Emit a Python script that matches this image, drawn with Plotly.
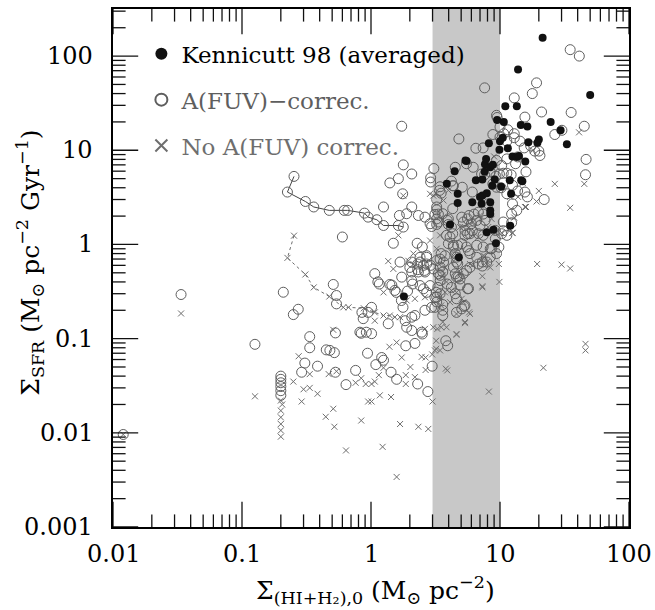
import math
import plotly.graph_objects as go

# ---------------- data ----------------
# Kennicutt 98 (averaged) - filled
ken_x = [21.4, 13.8, 50, 11, 13.5, 14.5, 16.3, 10.7, 24.7, 29.5, 33, 16.6, 20, 19.5, 10.5, 11.5, 8.2,
         12.5, 13.5, 9.9, 7.65, 5.4, 4.45, 7.6, 8.4, 6.5, 7.3, 10.2, 8.7, 11.9, 14.9, 12.2, 7.3, 7.9,
         10, 9.5, 7.8, 14, 15.7, 14.6, 5.5, 8.8, 3.87, 9.1, 6.1, 7, 4.7, 8.4, 8.4, 8.9, 9.3, 12.0,
         7.9, 7.2, 1.8, 4.7, 4.1, 4.8, 8.4]
ken_y = [157, 72, 38.6, 29.3, 29.3, 18.5, 17.9, 20, 20, 16.3, 11.6, 12.2, 13, 12, 13.6, 10.5, 11.9,
         8.6, 8.5, 10.1, 7.1, 7.8, 6.0, 5.9, 6.6, 4.8, 4.9, 4.1, 4.2, 4.8, 4.7, 3.46, 3.3, 3.5,
         12.5, 21, 8.1, 8.7, 7.6, 4.8, 7.7, 7.0, 4.4, 4.9, 2.8, 3.2, 2.75, 2.8, 2.1, 1.43, 1.03, 1.58,
         1.35, 2.7, 0.28, 3.46, 1.63, 0.73, 2.3]

# A(FUV)-corrected - open circles
cor_x = [0.012, 0.0337, 0.126, 0.2, 0.2, 0.2, 0.2, 0.2, 0.2,
         0.209, 0.25, 0.273, 0.335, 0.335, 0.307, 0.29, 0.385, 0.45, 0.48, 0.52, 0.53, 0.54, 0.51, 0.54, 0.53,
         1.25, 1.66, 2.07, 1.89, 2.33, 2.62, 2.87, 3.13, 3.23, 0.6, 1.49, 2.28, 1.68, 2.07, 2.4, 2.7, 2.55,
         2.33, 2.62, 3.04, 1.07, 1.13, 1.4, 1.53, 1.57, 2.07, 2.4, 2.55, 2.7, 2.87, 3.13, 3.23, 3.13, 1.72,
         1.77, 2.19, 2.07, 1.84, 2.62, 2.95, 1.01, 0.95, 0.85, 0.87, 1.36, 0.82, 0.92, 1.89, 2.07, 2.47,
         0.84, 1.01, 1.86, 2.19, 2.5, 0.94, 1.21, 1.25, 1.09, 1.43, 1.58, 0.76, 0.64, 2.3, 2.76, 2.98,
         3.8, 3.93, 5.26, 5.6,
         35, 41.2, 7.6, 19.2, 17.8, 12.9, 21, 35.6, 15.6, 9.4, 9.5, 10, 11.5, 12.9, 26.6, 30.2, 45, 8.8,
         4.8, 6.5, 7.4, 11.3, 12.9, 14.3, 15.4, 18.6, 20, 46.5, 46, 4.5, 5.5, 6.2, 11.3, 13.2, 13.7, 9.4,
         10.3, 10.6, 7.2, 7.6, 8.4, 9.3, 9.9, 11.3, 12.2, 15.9, 3.4, 4.2, 5.1, 4.35, 6.1, 8.8, 9.4, 10.2,
         11.3, 12.5, 13.7, 15.6,
         1.73, 1.78, 2.07, 1.63, 1.4, 2.9, 2.9, 3.07, 3.43, 3.5,
         3.33, 4.3, 3.23, 3.23, 2.95, 3.9, 5.05, 5.6, 6.3, 6.8, 7.4, 5.6, 6.1, 6.8, 7.4, 8.6, 11.3, 10.3,
         10.6, 12.5, 13.5, 12.3, 8.1, 16.3, 20.4, 17.3, 10, 10.7, 1.76,
         2.4, 2.5, 2.7, 2.3, 2.7, 2.3, 2.6, 2.9, 2.0, 2.07, 1.16, 1.45, 1.73, 2.1, 1.92,
         3.23, 3.6, 3.23, 3.33, 3.98, 3.98, 4.2, 4.3, 4.1,
         4.7, 4.35, 4.5, 4.6, 4.7, 4.35, 4.5, 4.6, 3.23, 3.44, 3.33, 3.44, 3.3, 3.2, 3.23,
         5.35, 5.85, 6.0, 6.6, 7.0, 7.65, 9.2, 9.2, 9.8, 9.4, 8.4, 7.9,
         6.6, 7.4, 5.85, 6.6, 6.8, 5.85, 5.5, 5.2, 4.9, 3.9, 4.2, 4.5, 4.6,
         4.3, 5.2, 5.75, 5.35, 3.85, 3.98, 4.35, 5.05, 5.5, 5.7, 8.4, 7.3, 7.3, 3.5, 3.75, 3.43, 3.65, 4.6,
         4.75, 4.9, 3.6, 3.43, 5.7, 4.6, 3.6, 3.6, 3.6, 3.43, 5.05, 5.35,
         22, 10.6, 12.3]
cor_y = [0.0096, 0.294, 0.087, 0.040, 0.037, 0.034, 0.031, 0.028, 0.025,
         0.311, 0.18, 0.205, 0.105, 0.08, 0.055, 0.044, 0.051, 0.076, 0.075, 0.071, 0.115, 0.234, 0.376, 0.287, 0.044,
         2.5, 2.03, 2.5, 2.12, 2.03, 1.95, 1.66, 2.08, 1.63, 1.2, 1.03, 1.03, 0.65, 0.65, 0.65, 0.76, 0.6,
         0.51, 0.51, 0.55, 0.49, 0.4, 0.376, 0.325, 0.31, 0.414, 0.366, 0.338, 0.31, 0.366, 0.275, 0.245, 0.215, 0.254,
         0.215, 0.176, 0.169, 0.155, 0.2, 0.215, 0.215, 0.19, 0.19, 0.163, 0.144, 0.117, 0.117, 0.132, 0.122, 0.117,
         0.114, 0.113, 0.084, 0.089, 0.112, 0.07, 0.063, 0.059, 0.053, 0.044, 0.037, 0.046, 0.0325, 0.033, 0.0274, 0.051,
         0.095, 0.084, 0.22, 0.338,
         117, 100, 46, 52, 40, 36, 25.5, 25.2, 22.5, 23.5, 22.3, 17.7, 16.5, 15, 14.7, 16.3, 18, 14.7,
         13.2, 10.5, 10.6, 12.5, 13.6, 12.5, 10.6, 9.8, 9.8, 8, 5.5, 6.6, 7.2, 6.6, 8.1, 7.2, 8.5, 7.8,
         6.9, 5.7, 5.6, 5.5, 5.9, 5.3, 5.6, 5.7, 5.5, 5.9, 3.75, 4.7, 4.05, 4.2, 3.6, 4.4, 4.05, 4.0,
         3.45, 4.25, 3.7, 3.6,
         18, 7.0, 5.6, 5.0, 4.5, 5.1, 4.6, 6.4, 4.1, 3.5,
         2.1, 4.2, 3.0, 2.5, 1.55, 1.8, 1.95, 1.87, 2.1, 2.2, 2.1, 1.3, 1.4, 1.3, 1.25, 0.9, 1.25, 1.3,
         1.4, 2.7, 2.3, 2.1, 2.7, 3.2, 8.8, 11.1, 13.8, 15, 3.45,
         0.73, 0.94, 0.73, 0.62, 0.62, 0.54, 0.53, 0.6, 0.57, 0.51, 0.38, 0.37, 0.45, 0.38, 0.32,
         2.33, 2.12, 1.87, 1.73, 1.87, 1.63, 1.53, 1.3, 1.2,
         0.976, 0.936, 0.8, 0.733, 0.624, 0.574, 0.488, 0.45, 0.676, 0.574, 0.488, 0.414, 0.35, 0.311, 0.276,
         1.41, 1.3, 1.66, 1.8, 1.59, 1.8, 1.41, 1.15, 0.936, 0.8, 0.733, 0.65,
         0.98, 0.94, 0.8, 0.73, 0.62, 0.57, 0.53, 0.49, 0.43, 0.38, 0.35, 0.3, 0.265,
         2.4, 1.73, 2.03, 1.25, 1.25, 1.02, 0.98, 1.02, 0.94, 0.86, 0.9, 0.65, 0.59, 0.8, 0.76, 0.7, 0.65, 0.65,
         0.45, 0.37, 0.51, 0.47, 0.34, 0.19, 0.23, 0.2, 0.176, 0.3, 0.207, 0.225,
         3.0, 1.73, 1.7]

# radial profile (corrected), joined by a solid line
prof_cor_x = [0.253, 0.225, 0.31, 0.36, 0.475, 0.62, 0.66, 0.89, 0.95, 1.11, 1.25, 1.63, 1.78]
prof_cor_y = [5.28, 3.6, 2.86, 2.5, 2.3, 2.3, 2.3, 2.15, 1.95, 1.83, 1.59, 1.59, 1.53]

# radial profile (uncorrected), joined by a dotted line
prof_unc_x = [0.253, 0.225, 0.31, 0.36, 0.475, 0.61, 0.67, 0.88, 1.07, 1.25, 1.4, 1.53, 1.68]
prof_unc_y = [1.24, 0.72, 0.48, 0.35, 0.28, 0.215, 0.215, 0.21, 0.19, 0.176, 0.176, 0.169, 0.169]

# No A(FUV) correction - crosses
unc_x = [0.012, 0.0337, 0.126, 0.2, 0.2, 0.2, 0.2, 0.2, 0.2, 0.205,
         0.275, 0.25, 0.3, 0.335, 0.29, 0.335, 0.385, 0.51, 0.446, 0.52, 0.51, 0.47, 0.54,
         1.63, 1.36, 1.49, 2.87, 3.23, 1.25, 1.89, 2.19, 2.62, 1.07, 2.62, 3.04,
         1.39, 1.58, 1.73, 2.02, 2.47, 2.65, 2.98, 3.13, 1.25, 1.15, 1.86, 1.86, 2.19, 2.65, 0.84, 0.76,
         0.91, 1.01, 1.07, 1.17, 1.43, 0.95, 1.01, 3.0, 0.84, 1.68, 2.33, 2.78, 0.64, 1.23,
         21.7, 46, 46, 8.2, 1.58, 3.8, 3.9, 5.35, 5.85, 4.6, 3.2, 3.2, 3.43, 3.27, 3.5, 7.3, 9.9,
         19.4, 30, 35, 15.9, 19.2, 35, 12.9, 12.5, 10.3, 9.8, 7.3, 7.3, 8.4, 7.6,
         5.85, 6.1, 4.9, 3.75, 3.6, 3.85, 4.2, 4.6, 3.75, 5.75, 5.35, 4.6, 3.43, 3.5, 4.1, 5.2, 5.05,
         3.6, 3.85, 4.6, 7.4, 7.9, 4.9, 5.2, 5.85, 6.2, 7.0, 8.6, 8.1, 6.8, 3.43, 4.35,
         41, 18, 26.6, 45, 20, 15, 13.8, 12, 9.0,
         1.78, 3.04, 2.87, 3.23, 2.13, 1.95, 2.13, 3.98, 3.65, 15.6, 11.9, 12.5]
unc_y = [0.0096, 0.185, 0.0244, 0.022, 0.0172, 0.0146, 0.0124, 0.0106, 0.0091, 0.02,
         0.065, 0.035, 0.029, 0.030, 0.0215, 0.042, 0.026, 0.018, 0.0148, 0.0116, 0.124, 0.042, 0.045,
         1.25, 0.665, 0.55, 1.1, 0.9, 0.31, 0.254, 0.265, 0.275, 0.155, 0.127, 0.132,
         0.082, 0.091, 0.063, 0.05, 0.064, 0.063, 0.068, 0.075, 0.049, 0.041, 0.041, 0.033, 0.039, 0.0465, 0.038, 0.034,
         0.033, 0.033, 0.035, 0.025, 0.024, 0.0215, 0.0215, 0.0215, 0.0135, 0.0124, 0.0116, 0.011, 0.0065, 0.0071,
         0.049, 0.088, 0.075, 0.0274, 0.0034, 0.048, 0.046, 0.146, 0.183, 0.11, 0.095, 0.078, 0.075, 0.127, 0.132, 0.35, 0.4,
         0.62, 0.61, 0.556, 2.5, 2.86, 2.45, 1.93, 1.33, 1.33, 0.62, 0.46, 0.36, 0.57, 0.75,
         0.62, 0.6, 0.49, 0.57, 0.47, 0.4, 0.325, 0.31, 0.31, 0.19, 0.15, 0.112, 0.276, 0.225, 0.244, 0.244, 0.265,
         0.15, 0.132, 0.183, 0.76, 0.65, 1.53, 1.53, 1.66, 1.73, 2.03, 1.87, 1.53, 1.2, 1.25, 0.76,
         15.5, 10, 4.4, 4.4, 3.7, 4.5, 3.2, 3.2, 8.6,
         3.3, 3.3, 3.45, 3.45, 0.8, 0.67, 0.62, 3.75, 2.93, 2.5, 1.47, 1.32]

band_lo, band_hi = 3, 10

x_range_log = [-2, 2]
y_range_log = [-3, 2.5]
x_tickvals = [0.01, 0.1, 1, 10, 100]
x_ticktext = ["0.01", "0.1", "1", "10", "100"]
y_tickvals = [0.001, 0.01, 0.1, 1, 10, 100]
y_ticktext = ["0.001", "0.01", "0.1", "1", "10", "100"]
minor_digits = [2, 3, 4, 5, 6, 7, 8, 9]
x_minor = [d * m for d in x_tickvals[:-1] for m in minor_digits]
y_minor = [d * m for d in y_tickvals for m in minor_digits if d * m < 10 ** y_range_log[1]]

legend_names = ["Kennicutt 98 (averaged)", "A(FUV)\u2212correc.", "No A(FUV) correc."]
x_title = "\u03a3<sub>(HI+H\u2082),0</sub> (M<sub>\u2299</sub> pc<sup>\u22122</sup>)"
y_title = "\u03a3<sub>SFR</sub> (M<sub>\u2299</sub> pc<sup>\u22122</sup> Gyr<sup>\u22121</sup>)"

# ---------------- styling ----------------
FONT = "DejaVu Serif"
GREY_C = "#5e5e5e"
GREY_X = "#6e6e6e"
TICK_C = "#111111"
MAJ, MIN = 18, 9

fig = go.Figure()

fig.add_shape(type="rect", xref="x", yref="paper", x0=band_lo, x1=band_hi, y0=0, y1=1,
              fillcolor="#c8c8c8", line=dict(width=0), layer="below")

fig.add_trace(go.Scatter(x=prof_unc_x, y=prof_unc_y, mode="lines",
                         line=dict(color=GREY_X, width=1, dash="dot"), showlegend=False,
                         hoverinfo="skip"))
fig.add_trace(go.Scatter(x=prof_cor_x, y=prof_cor_y, mode="lines",
                         line=dict(color="#444444", width=1), showlegend=False, hoverinfo="skip"))

fig.add_trace(go.Scatter(x=unc_x + prof_unc_x, y=unc_y + prof_unc_y, mode="markers",
                         name="<span style='color:#6e6e6e'>" + legend_names[2] + "</span>",
                         legendrank=3, legendgroup="c",
                         marker=dict(symbol="x-thin-open", size=6, color=GREY_X,
                                     line=dict(color=GREY_X, width=1))))
fig.add_trace(go.Scatter(x=cor_x + prof_cor_x, y=cor_y + prof_cor_y, mode="markers",
                         name="<span style='color:#5e5e5e'>" + legend_names[1] + "</span>",
                         legendrank=2, legendgroup="b",
                         marker=dict(symbol="circle-open", size=10, color=GREY_C,
                                     line=dict(color=GREY_C, width=1))))
fig.add_trace(go.Scatter(x=ken_x, y=ken_y, mode="markers",
                         name=legend_names[0], legendrank=1, legendgroup="a",
                         marker=dict(symbol="circle", size=8, color="#111111",
                                     line=dict(width=0))))

# tick marks on all four sides: line markers centred on the frame, clipped to the plot area
x_lo, x_hi = 10 ** x_range_log[0], 10 ** x_range_log[1]
y_lo, y_hi = 10 ** y_range_log[0], 10 ** y_range_log[1]
for vals, ln in ((x_tickvals, MAJ), (x_minor, MIN)):
    fig.add_trace(go.Scatter(x=vals + vals, y=[y_lo] * len(vals) + [y_hi] * len(vals),
                             mode="markers", showlegend=False, hoverinfo="skip", cliponaxis=True,
                             marker=dict(symbol="line-ns-open", size=2 * ln, color=TICK_C,
                                         line=dict(color=TICK_C, width=1.3))))
for vals, ln in ((y_tickvals, MAJ), (y_minor, MIN)):
    fig.add_trace(go.Scatter(x=[x_lo] * len(vals) + [x_hi] * len(vals), y=vals + vals,
                             mode="markers", showlegend=False, hoverinfo="skip", cliponaxis=True,
                             marker=dict(symbol="line-ew-open", size=2 * ln, color=TICK_C,
                                         line=dict(color=TICK_C, width=1.3))))

axis_common = dict(
    type="log", showgrid=False, zeroline=False, showline=True, linecolor="#000000", linewidth=1.5,
    mirror=True, ticks="", showticklabels=False, automargin=False,
)

tick_labels = []
for v, t in zip(x_tickvals, x_ticktext):
    tick_labels.append(dict(text=t, xref="x", yref="paper", x=math.log10(v), y=0,
                            xanchor="center", yanchor="top", yshift=-11, showarrow=False,
                            font=dict(family=FONT, size=24, color="#000000")))
for v, t in zip(y_tickvals, y_ticktext):
    tick_labels.append(dict(text=t, xref="paper", yref="y", x=0, y=math.log10(v),
                            xanchor="right", yanchor="middle", xshift=-18, showarrow=False,
                            font=dict(family=FONT, size=24, color="#000000")))

fig.update_layout(
    xaxis=dict(**axis_common, range=x_range_log),
    yaxis=dict(**axis_common, range=y_range_log),
    width=655, height=610,
    margin=dict(l=113, r=26, t=9, b=83),
    plot_bgcolor="white", paper_bgcolor="white",
    font=dict(family=FONT, color="#000000"),
    legend=dict(x=0.055, y=0.955, xanchor="left", yanchor="top", bgcolor="rgba(0,0,0,0)",
                font=dict(family=FONT, size=23, color="#000000"), tracegroupgap=13,
                itemsizing="constant"),
    showlegend=True,
    annotations=tick_labels + [
        dict(text=x_title, xref="paper", yref="paper", x=0.508, y=-0.122, xanchor="center",
             yanchor="middle", showarrow=False, font=dict(family=FONT, size=25, color="#000000")),
        dict(text=y_title, xref="paper", yref="paper", x=-0.161, y=0.51, xanchor="center",
             yanchor="middle", textangle=-90, showarrow=False,
             font=dict(family=FONT, size=25, color="#000000")),
    ],
)

fig.write_html("out.html")
